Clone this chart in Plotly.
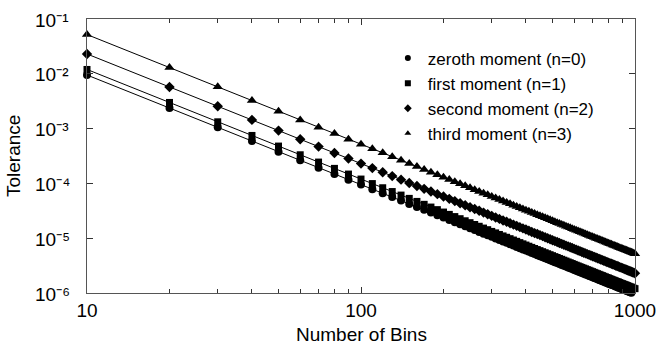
import plotly.graph_objects as go

# Number of bins used in the discretisation
n_bins = list(range(10, 1001, 10))

# Tolerance reached for each moment
zeroth = [
    9.50e-3, 2.38e-3, 1.06e-3, 5.94e-4, 3.80e-4, 2.64e-4, 1.94e-4, 1.48e-4, 1.17e-4, 9.50e-5,
    7.85e-5, 6.60e-5, 5.62e-5, 4.85e-5, 4.22e-5, 3.71e-5, 3.29e-5, 2.93e-5, 2.63e-5, 2.38e-5,
    2.15e-5, 1.96e-5, 1.80e-5, 1.65e-5, 1.52e-5, 1.41e-5, 1.30e-5, 1.21e-5, 1.13e-5, 1.06e-5,
    9.89e-6, 9.28e-6, 8.72e-6, 8.22e-6, 7.76e-6, 7.33e-6, 6.94e-6, 6.58e-6, 6.25e-6, 5.94e-6,
    5.65e-6, 5.39e-6, 5.14e-6, 4.91e-6, 4.69e-6, 4.49e-6, 4.30e-6, 4.12e-6, 3.96e-6, 3.80e-6,
    3.65e-6, 3.51e-6, 3.38e-6, 3.26e-6, 3.14e-6, 3.03e-6, 2.92e-6, 2.82e-6, 2.73e-6, 2.64e-6,
    2.55e-6, 2.47e-6, 2.39e-6, 2.32e-6, 2.25e-6, 2.18e-6, 2.12e-6, 2.05e-6, 2.00e-6, 1.94e-6,
    1.88e-6, 1.83e-6, 1.78e-6, 1.73e-6, 1.69e-6, 1.64e-6, 1.60e-6, 1.56e-6, 1.52e-6, 1.48e-6,
    1.45e-6, 1.41e-6, 1.38e-6, 1.35e-6, 1.31e-6, 1.28e-6, 1.25e-6, 1.23e-6, 1.20e-6, 1.17e-6,
    1.15e-6, 1.12e-6, 1.10e-6, 1.08e-6, 1.05e-6, 1.03e-6, 1.01e-6, 9.89e-7, 9.69e-7, 9.50e-7,
]
first = [
    1.20e-2, 3.00e-3, 1.33e-3, 7.50e-4, 4.80e-4, 3.33e-4, 2.45e-4, 1.88e-4, 1.48e-4, 1.20e-4,
    9.92e-5, 8.33e-5, 7.10e-5, 6.12e-5, 5.33e-5, 4.69e-5, 4.15e-5, 3.70e-5, 3.32e-5, 3.00e-5,
    2.72e-5, 2.48e-5, 2.27e-5, 2.08e-5, 1.92e-5, 1.78e-5, 1.65e-5, 1.53e-5, 1.43e-5, 1.33e-5,
    1.25e-5, 1.17e-5, 1.10e-5, 1.04e-5, 9.80e-6, 9.26e-6, 8.77e-6, 8.31e-6, 7.89e-6, 7.50e-6,
    7.14e-6, 6.80e-6, 6.49e-6, 6.20e-6, 5.93e-6, 5.67e-6, 5.43e-6, 5.21e-6, 5.00e-6, 4.80e-6,
    4.61e-6, 4.44e-6, 4.27e-6, 4.12e-6, 3.97e-6, 3.83e-6, 3.69e-6, 3.57e-6, 3.45e-6, 3.33e-6,
    3.22e-6, 3.12e-6, 3.02e-6, 2.93e-6, 2.84e-6, 2.76e-6, 2.67e-6, 2.60e-6, 2.52e-6, 2.45e-6,
    2.38e-6, 2.31e-6, 2.25e-6, 2.19e-6, 2.13e-6, 2.08e-6, 2.02e-6, 1.97e-6, 1.92e-6, 1.88e-6,
    1.83e-6, 1.78e-6, 1.74e-6, 1.70e-6, 1.66e-6, 1.62e-6, 1.59e-6, 1.55e-6, 1.51e-6, 1.48e-6,
    1.45e-6, 1.42e-6, 1.39e-6, 1.36e-6, 1.33e-6, 1.30e-6, 1.28e-6, 1.25e-6, 1.22e-6, 1.20e-6,
]
second = [
    2.30e-2, 5.75e-3, 2.56e-3, 1.44e-3, 9.20e-4, 6.39e-4, 4.69e-4, 3.59e-4, 2.84e-4, 2.30e-4,
    1.90e-4, 1.60e-4, 1.36e-4, 1.17e-4, 1.02e-4, 8.98e-5, 7.96e-5, 7.10e-5, 6.37e-5, 5.75e-5,
    5.22e-5, 4.75e-5, 4.35e-5, 3.99e-5, 3.68e-5, 3.40e-5, 3.16e-5, 2.93e-5, 2.73e-5, 2.56e-5,
    2.39e-5, 2.25e-5, 2.11e-5, 1.99e-5, 1.88e-5, 1.77e-5, 1.68e-5, 1.59e-5, 1.51e-5, 1.44e-5,
    1.37e-5, 1.30e-5, 1.24e-5, 1.19e-5, 1.14e-5, 1.09e-5, 1.04e-5, 9.98e-6, 9.58e-6, 9.20e-6,
    8.84e-6, 8.51e-6, 8.19e-6, 7.89e-6, 7.60e-6, 7.33e-6, 7.08e-6, 6.84e-6, 6.61e-6, 6.39e-6,
    6.18e-6, 5.98e-6, 5.80e-6, 5.61e-6, 5.44e-6, 5.28e-6, 5.12e-6, 4.97e-6, 4.83e-6, 4.69e-6,
    4.56e-6, 4.44e-6, 4.32e-6, 4.20e-6, 4.09e-6, 3.98e-6, 3.88e-6, 3.78e-6, 3.68e-6, 3.59e-6,
    3.51e-6, 3.42e-6, 3.34e-6, 3.26e-6, 3.18e-6, 3.11e-6, 3.04e-6, 2.97e-6, 2.90e-6, 2.84e-6,
    2.78e-6, 2.72e-6, 2.66e-6, 2.60e-6, 2.55e-6, 2.50e-6, 2.44e-6, 2.39e-6, 2.35e-6, 2.30e-6,
]
third = [
    5.20e-2, 1.30e-2, 5.78e-3, 3.25e-3, 2.08e-3, 1.44e-3, 1.06e-3, 8.13e-4, 6.42e-4, 5.20e-4,
    4.30e-4, 3.61e-4, 3.08e-4, 2.65e-4, 2.31e-4, 2.03e-4, 1.80e-4, 1.60e-4, 1.44e-4, 1.30e-4,
    1.18e-4, 1.07e-4, 9.83e-5, 9.03e-5, 8.32e-5, 7.69e-5, 7.13e-5, 6.63e-5, 6.18e-5, 5.78e-5,
    5.41e-5, 5.08e-5, 4.78e-5, 4.50e-5, 4.24e-5, 4.01e-5, 3.80e-5, 3.60e-5, 3.42e-5, 3.25e-5,
    3.09e-5, 2.95e-5, 2.81e-5, 2.69e-5, 2.57e-5, 2.46e-5, 2.35e-5, 2.26e-5, 2.17e-5, 2.08e-5,
    2.00e-5, 1.92e-5, 1.85e-5, 1.78e-5, 1.72e-5, 1.66e-5, 1.60e-5, 1.55e-5, 1.49e-5, 1.44e-5,
    1.40e-5, 1.35e-5, 1.31e-5, 1.27e-5, 1.23e-5, 1.19e-5, 1.16e-5, 1.12e-5, 1.09e-5, 1.06e-5,
    1.03e-5, 1.00e-5, 9.76e-6, 9.50e-6, 9.25e-6, 9.00e-6, 8.77e-6, 8.55e-6, 8.33e-6, 8.13e-6,
    7.92e-6, 7.73e-6, 7.55e-6, 7.37e-6, 7.20e-6, 7.03e-6, 6.87e-6, 6.71e-6, 6.56e-6, 6.42e-6,
    6.28e-6, 6.14e-6, 6.01e-6, 5.89e-6, 5.76e-6, 5.64e-6, 5.53e-6, 5.41e-6, 5.30e-6, 5.20e-6,
]

series_names = [
    "zeroth moment (n=0)",
    "first moment (n=1)",
    "second moment (n=2)",
    "third moment (n=3)",
]

x_tick_vals = [10, 100, 1000]
x_tick_text = ["10", "100", "1000"]
x_minor_vals = [20, 30, 40, 50, 60, 70, 80, 90, 200, 300, 400, 500, 600, 700, 800, 900]
y_tick_exponents = [-6, -5, -4, -3, -2, -1]
y_tick_text = ["10⁻⁶", "10⁻⁵", "10⁻⁴", "10⁻³", "10⁻²", "10⁻¹"]

FONT = "Liberation Sans, Arial, Helvetica, sans-serif"

styles = [
    dict(symbol="circle", size=8),
    dict(symbol="square", size=7),
    dict(symbol="diamond", size=8),
    dict(symbol="triangle-up", size=9),
]

fig = go.Figure()
for name, vals, st in zip(series_names, [zeroth, first, second, third], styles):
    # curve with markers
    fig.add_trace(go.Scatter(
        x=n_bins, y=vals, name=name, mode="lines+markers",
        line=dict(color="black", width=1),
        marker=dict(color="black", symbol=st["symbol"], size=st["size"], line=dict(width=0)),
        cliponaxis=False, showlegend=False,
    ))
    # legend entry showing the marker symbol only
    fig.add_trace(go.Scatter(
        x=[None], y=[None], name=name, mode="markers",
        marker=dict(color="black", symbol=st["symbol"], size=6, line=dict(width=0)),
        showlegend=True,
    ))

axis_common = dict(
    showgrid=False, zeroline=False, showline=True, linecolor="#555", linewidth=1,
    mirror="allticks", ticks="inside", tickcolor="#333", tickwidth=1,
    tickfont=dict(family=FONT, size=19, color="black"), automargin=False,
)

text_font = dict(family=FONT, size=19, color="black")

# decade labels on the tolerance axis
y_labels = [
    dict(x=0, xref="paper", xanchor="left", xshift=-54,
         y=e, yref="y", yanchor="middle", yshift=-1,
         text=t, showarrow=False, font=text_font)
    for e, t in zip(y_tick_exponents, y_tick_text)
]
y_title = dict(
    x=-0.135, xref="paper", xanchor="center", y=0.5, yref="paper", yanchor="middle",
    text="Tolerance", textangle=-90, showarrow=False, font=text_font,
)
x_title = dict(
    x=0.5, xref="paper", xanchor="center", y=-0.153, yref="paper", yanchor="middle",
    text="Number of Bins", showarrow=False, font=text_font,
)

fig.update_layout(
    width=657, height=347,
    margin=dict(l=87, r=22, t=19, b=54),
    paper_bgcolor="white", plot_bgcolor="white",
    font=text_font,
    showlegend=True,
    legend=dict(
        x=0.549, y=0.9215, xanchor="left", yanchor="top",
        bgcolor="rgba(0,0,0,0)", borderwidth=0,
        font=dict(family=FONT, size=17, color="black"),
        itemwidth=30, tracegroupgap=0,
    ),
    xaxis=dict(
        type="log", range=[1, 3],
        tickvals=x_tick_vals, ticktext=x_tick_text, ticklen=6,
        minor=dict(tickvals=x_minor_vals, ticks="inside", ticklen=4, tickcolor="#333"),
        ticklabelstandoff=0,
        **axis_common,
    ),
    yaxis=dict(
        type="log", range=[-6, -1],
        tickvals=[10.0 ** e for e in y_tick_exponents], ticklen=6,
        showticklabels=False,
        **axis_common,
    ),
    annotations=y_labels + [y_title, x_title],
)

fig.write_html("out.html")
